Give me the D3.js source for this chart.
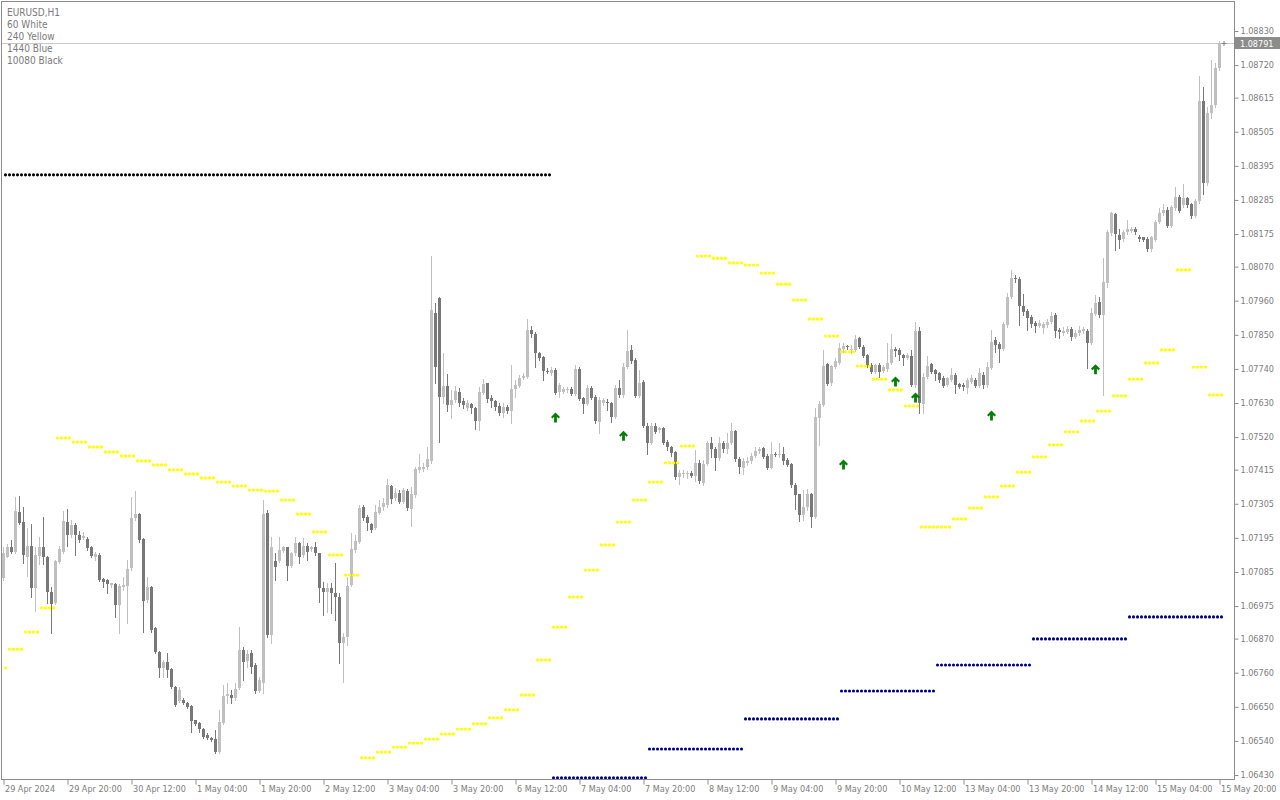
<!DOCTYPE html>
<html lang="en">
<head>
<meta charset="utf-8">
<style>
  html, body { margin: 0; padding: 0; background: #fff; }
  svg { display: block; }
  text { font-family: "DejaVu Sans Condensed", "DejaVu Sans", sans-serif; font-stretch: condensed; }
  .axis text { font-size: 9px; fill: #7c7c7c; }
  .axis line { stroke: #8c8c8c; }
  .legend { font-size: 10px; fill: #7a7a7a; }
</style>
</head>
<body>
<svg width="1280" height="800"></svg>
<script src="https://cdn.jsdelivr.net/npm/d3@7"></script>
<script>
const symbol = "EURUSD,H1"
const legendLines = ["60 White", "240 Yellow", "1440 Blue", "10080 Black"]

// first visible H1 bar (broker time), weekends skipped
const firstBar = Date.UTC(2024, 3, 29, 4)

// [open, high, low, close] per H1 bar
const candles = [
  [1.07064,1.07167,1.07059,1.07145],[1.07134,1.07175,1.07132,1.07167],[1.07167,1.07188,1.07147,1.07150],[1.07150,1.07328,1.07147,1.07283],
  [1.07280,1.07330,1.07240,1.07244],[1.07247,1.07293,1.07113,1.07140],[1.07134,1.07226,1.07072,1.07169],[1.07169,1.07240,1.07005,1.07034],
  [1.07034,1.07167,1.06960,1.07140],[1.07136,1.07199,1.07111,1.07167],[1.07166,1.07261,1.07111,1.07132],[1.07134,1.07136,1.06984,1.07021],
  [1.07021,1.07038,1.06889,1.06981],[1.06984,1.07124,1.06981,1.07120],[1.07118,1.07169,1.07113,1.07159],[1.07150,1.07283,1.07147,1.07249],
  [1.07246,1.07287,1.07169,1.07204],[1.07204,1.07253,1.07199,1.07236],[1.07236,1.07242,1.07140,1.07204],[1.07204,1.07218,1.07183,1.07188],
  [1.07193,1.07215,1.07190,1.07201],[1.07191,1.07199,1.07156,1.07161],[1.07167,1.07169,1.07132,1.07136],[1.07134,1.07150,1.07124,1.07142],
  [1.07140,1.07145,1.07057,1.07059],[1.07062,1.07065,1.07038,1.07054],[1.07059,1.07061,1.07016,1.07045],[1.07043,1.07050,1.07038,1.07048],
  [1.07046,1.07048,1.06941,1.06978],[1.06978,1.07046,1.06889,1.07041],[1.07038,1.07070,1.07027,1.07043],[1.07041,1.07124,1.06921,1.07094],
  [1.07097,1.07328,1.07091,1.07260],[1.07258,1.07346,1.07253,1.07271],[1.07271,1.07274,1.07183,1.07188],[1.07191,1.07193,1.06890,1.06991],
  [1.06995,1.07070,1.06989,1.07038],[1.07038,1.07040,1.06892,1.06898],[1.06903,1.06906,1.06822,1.06828],[1.06828,1.06831,1.06747,1.06776],
  [1.06776,1.06801,1.06747,1.06793],[1.06793,1.06822,1.06745,1.06769],[1.06772,1.06775,1.06712,1.06715],[1.06715,1.06717,1.06653,1.06656],
  [1.06670,1.06715,1.06667,1.06704],[1.06672,1.06677,1.06659,1.06661],[1.06663,1.06667,1.06645,1.06648],[1.06653,1.06656,1.06570,1.06604],
  [1.06607,1.06609,1.06591,1.06595],[1.06599,1.06602,1.06570,1.06577],[1.06578,1.06582,1.06548,1.06554],[1.06559,1.06564,1.06545,1.06548],
  [1.06548,1.06554,1.06540,1.06543],[1.06545,1.06575,1.06502,1.06505],[1.06505,1.06640,1.06502,1.06602],[1.06599,1.06721,1.06595,1.06685],
  [1.06685,1.06726,1.06661,1.06691],[1.06688,1.06704,1.06661,1.06677],[1.06677,1.06726,1.06672,1.06706],[1.06710,1.06909,1.06706,1.06833],
  [1.06833,1.06844,1.06736,1.06796],[1.06799,1.06833,1.06779,1.06820],[1.06822,1.06833,1.06758,1.06779],[1.06785,1.06790,1.06696,1.06702],
  [1.06702,1.06747,1.06699,1.06736],[1.06726,1.07317,1.06693,1.07272],[1.07274,1.07285,1.06876,1.06882],[1.06882,1.07199,1.06855,1.07167],
  [1.07121,1.07145,1.07059,1.07102],[1.07121,1.07197,1.07118,1.07156],[1.07154,1.07169,1.07150,1.07164],[1.07164,1.07167,1.07059,1.07105],
  [1.07105,1.07150,1.07102,1.07147],[1.07145,1.07199,1.07140,1.07177],[1.07177,1.07183,1.07115,1.07134],[1.07140,1.07193,1.07134,1.07169],
  [1.07169,1.07177,1.07124,1.07150],[1.07158,1.07169,1.07154,1.07167],[1.07164,1.07183,1.07140,1.07145],[1.07145,1.07147,1.06989,1.07032],
  [1.07032,1.07054,1.06946,1.07021],[1.07021,1.07048,1.06957,1.07032],[1.07032,1.07048,1.06954,1.07016],[1.07018,1.07113,1.06930,1.07005],
  [1.07005,1.07016,1.06790,1.06857],[1.06855,1.06887,1.06731,1.06876],[1.06874,1.07070,1.06849,1.07040],[1.07043,1.07210,1.07040,1.07159],
  [1.07156,1.07204,1.07150,1.07185],[1.07183,1.07301,1.07177,1.07290],[1.07296,1.07301,1.07253,1.07258],[1.07263,1.07269,1.07220,1.07244],
  [1.07240,1.07244,1.07215,1.07220],[1.07226,1.07301,1.07222,1.07280],[1.07276,1.07317,1.07272,1.07293],[1.07293,1.07322,1.07285,1.07306],
  [1.07301,1.07384,1.07296,1.07366],[1.07362,1.07366,1.07306,1.07320],[1.07322,1.07355,1.07317,1.07341],[1.07341,1.07349,1.07306,1.07312],
  [1.07312,1.07355,1.07306,1.07349],[1.07347,1.07351,1.07285,1.07290],[1.07287,1.07360,1.07233,1.07337],[1.07333,1.07425,1.07328,1.07416],
  [1.07414,1.07467,1.07409,1.07422],[1.07416,1.07435,1.07412,1.07425],[1.07422,1.07489,1.07416,1.07450],[1.07443,1.08105,1.07436,1.07930],
  [1.07920,1.07953,1.07694,1.07746],[1.07969,1.07973,1.07504,1.07649],[1.07649,1.07791,1.07630,1.07685],[1.07685,1.07724,1.07604,1.07624],
  [1.07624,1.07672,1.07582,1.07640],[1.07640,1.07685,1.07633,1.07669],[1.07666,1.07678,1.07620,1.07630],[1.07636,1.07646,1.07614,1.07624],
  [1.07613,1.07640,1.07607,1.07631],[1.07627,1.07631,1.07597,1.07613],[1.07613,1.07618,1.07545,1.07572],[1.07572,1.07683,1.07543,1.07665],
  [1.07663,1.07709,1.07659,1.07691],[1.07693,1.07695,1.07634,1.07643],[1.07645,1.07656,1.07618,1.07637],[1.07637,1.07640,1.07607,1.07618],
  [1.07620,1.07629,1.07591,1.07599],[1.07599,1.07629,1.07586,1.07616],[1.07618,1.07624,1.07597,1.07605],[1.07605,1.07752,1.07566,1.07675],
  [1.07674,1.07704,1.07650,1.07688],[1.07686,1.07720,1.07683,1.07712],[1.07710,1.07727,1.07706,1.07718],[1.07715,1.07900,1.07710,1.07865],
  [1.07865,1.07878,1.07844,1.07852],[1.07854,1.07860,1.07747,1.07792],[1.07790,1.07795,1.07769,1.07776],[1.07777,1.07781,1.07704,1.07733],
  [1.07733,1.07742,1.07727,1.07731],[1.07728,1.07747,1.07720,1.07736],[1.07736,1.07742,1.07659,1.07663],[1.07665,1.07693,1.07650,1.07687],
  [1.07665,1.07683,1.07661,1.07675],[1.07672,1.07683,1.07667,1.07675],[1.07675,1.07683,1.07656,1.07660],[1.07660,1.07752,1.07656,1.07740],
  [1.07740,1.07747,1.07640,1.07644],[1.07645,1.07650,1.07597,1.07627],[1.07627,1.07688,1.07624,1.07680],[1.07680,1.07686,1.07642,1.07647],
  [1.07650,1.07656,1.07566,1.07572],[1.07570,1.07650,1.07532,1.07640],[1.07629,1.07645,1.07624,1.07640],[1.07634,1.07642,1.07607,1.07629],
  [1.07629,1.07634,1.07570,1.07586],[1.07586,1.07688,1.07581,1.07680],[1.07680,1.07704,1.07650,1.07656],[1.07656,1.07758,1.07650,1.07747],
  [1.07745,1.07865,1.07742,1.07797],[1.07801,1.07817,1.07760,1.07767],[1.07769,1.07774,1.07650,1.07654],[1.07654,1.07736,1.07650,1.07693],
  [1.07697,1.07704,1.07554,1.07557],[1.07557,1.07564,1.07467,1.07502],[1.07502,1.07564,1.07498,1.07556],[1.07556,1.07566,1.07532,1.07538],
  [1.07543,1.07554,1.07535,1.07548],[1.07548,1.07552,1.07498,1.07502],[1.07504,1.07511,1.07478,1.07487],[1.07487,1.07491,1.07459,1.07470],
  [1.07472,1.07476,1.07384,1.07392],[1.07392,1.07414,1.07369,1.07405],[1.07401,1.07414,1.07390,1.07405],[1.07400,1.07412,1.07387,1.07405],
  [1.07405,1.07412,1.07390,1.07396],[1.07396,1.07478,1.07377,1.07438],[1.07438,1.07446,1.07371,1.07377],[1.07371,1.07446,1.07366,1.07434],
  [1.07434,1.07509,1.07430,1.07502],[1.07502,1.07521,1.07457,1.07481],[1.07482,1.07489,1.07414,1.07452],[1.07452,1.07521,1.07446,1.07500],
  [1.07500,1.07509,1.07473,1.07481],[1.07481,1.07532,1.07468,1.07502],[1.07501,1.07564,1.07497,1.07539],[1.07539,1.07542,1.07444,1.07448],
  [1.07449,1.07455,1.07403,1.07422],[1.07419,1.07452,1.07401,1.07444],[1.07438,1.07457,1.07430,1.07444],[1.07444,1.07470,1.07437,1.07459],
  [1.07459,1.07489,1.07455,1.07476],[1.07476,1.07489,1.07470,1.07481],[1.07484,1.07489,1.07452,1.07457],[1.07460,1.07465,1.07416,1.07421],
  [1.07421,1.07505,1.07419,1.07465],[1.07467,1.07473,1.07459,1.07464],[1.07465,1.07501,1.07457,1.07467],[1.07467,1.07489,1.07434,1.07443],
  [1.07446,1.07452,1.07427,1.07430],[1.07433,1.07436,1.07360,1.07366],[1.07366,1.07371,1.07287,1.07333],[1.07335,1.07338,1.07250,1.07269],
  [1.07269,1.07349,1.07253,1.07294],[1.07294,1.07351,1.07285,1.07338],[1.07336,1.07340,1.07229,1.07261],[1.07261,1.07613,1.07258,1.07586],
  [1.07583,1.07635,1.07495,1.07626],[1.07624,1.07801,1.07621,1.07749],[1.07755,1.07758,1.07688,1.07691],[1.07693,1.07753,1.07688,1.07749],
  [1.07747,1.07774,1.07742,1.07765],[1.07760,1.07823,1.07756,1.07806],[1.07804,1.07823,1.07796,1.07814],[1.07814,1.07817,1.07803,1.07810],
  [1.07801,1.07817,1.07790,1.07805],[1.07801,1.07849,1.07798,1.07835],[1.07840,1.07844,1.07806,1.07810],[1.07812,1.07816,1.07778,1.07782],
  [1.07785,1.07788,1.07747,1.07753],[1.07753,1.07758,1.07726,1.07729],[1.07729,1.07755,1.07726,1.07751],[1.07753,1.07758,1.07713,1.07731],
  [1.07733,1.07753,1.07729,1.07747],[1.07739,1.07823,1.07734,1.07758],[1.07758,1.07854,1.07755,1.07804],[1.07804,1.07812,1.07780,1.07798],
  [1.07801,1.07806,1.07769,1.07785],[1.07785,1.07788,1.07753,1.07774],[1.07774,1.07790,1.07771,1.07785],[1.07782,1.07801,1.07685,1.07688],
  [1.07688,1.07892,1.07683,1.07862],[1.07862,1.07874,1.07597,1.07629],[1.07627,1.07726,1.07597,1.07714],[1.07715,1.07780,1.07712,1.07749],
  [1.07755,1.07760,1.07726,1.07730],[1.07735,1.07739,1.07704,1.07724],[1.07726,1.07731,1.07699,1.07705],[1.07712,1.07717,1.07681,1.07685],
  [1.07688,1.07715,1.07685,1.07710],[1.07704,1.07742,1.07700,1.07720],[1.07720,1.07726,1.07661,1.07688],[1.07691,1.07695,1.07677,1.07683],
  [1.07687,1.07693,1.07672,1.07681],[1.07677,1.07710,1.07661,1.07704],[1.07699,1.07720,1.07693,1.07710],[1.07704,1.07710,1.07681,1.07685],
  [1.07685,1.07742,1.07681,1.07726],[1.07720,1.07731,1.07677,1.07687],[1.07687,1.07763,1.07682,1.07747],[1.07744,1.07865,1.07739,1.07828],
  [1.07833,1.07844,1.07796,1.07817],[1.07820,1.07828,1.07763,1.07804],[1.07804,1.07892,1.07801,1.07885],[1.07882,1.07984,1.07876,1.07973],
  [1.07973,1.08059,1.07968,1.08032],[1.08034,1.08043,1.08021,1.08029],[1.08030,1.08036,1.07882,1.07944],[1.07944,1.07982,1.07914,1.07923],
  [1.07927,1.07932,1.07865,1.07905],[1.07909,1.07914,1.07876,1.07885],[1.07889,1.07895,1.07860,1.07878],[1.07878,1.07898,1.07874,1.07889],
  [1.07871,1.07892,1.07855,1.07885],[1.07882,1.07900,1.07876,1.07892],[1.07890,1.07925,1.07887,1.07912],[1.07914,1.07919,1.07844,1.07863],
  [1.07865,1.07871,1.07839,1.07860],[1.07857,1.07876,1.07849,1.07863],[1.07860,1.07878,1.07855,1.07868],[1.07868,1.07874,1.07833,1.07844],
  [1.07844,1.07865,1.07839,1.07857],[1.07855,1.07878,1.07849,1.07865],[1.07863,1.07876,1.07857,1.07868],[1.07863,1.07870,1.07742,1.07825],
  [1.07825,1.07935,1.07820,1.07921],[1.07917,1.07978,1.07914,1.07954],[1.07956,1.07973,1.07909,1.07914],[1.07914,1.08097,1.07656,1.08021],
  [1.08018,1.08188,1.08005,1.08180],[1.08177,1.08247,1.08172,1.08242],[1.08240,1.08244,1.08124,1.08176],[1.08172,1.08190,1.08129,1.08156],
  [1.08158,1.08188,1.08151,1.08183],[1.08180,1.08220,1.08176,1.08190],[1.08186,1.08199,1.08180,1.08190],[1.08190,1.08197,1.08176,1.08180],
  [1.08166,1.08172,1.08154,1.08158],[1.08164,1.08166,1.08151,1.08156],[1.08159,1.08164,1.08121,1.08128],[1.08128,1.08168,1.08121,1.08164],
  [1.08156,1.08220,1.08151,1.08215],[1.08215,1.08258,1.08212,1.08244],[1.08242,1.08272,1.08237,1.08252],[1.08252,1.08263,1.08197,1.08201],
  [1.08201,1.08268,1.08199,1.08263],[1.08258,1.08327,1.08252,1.08294],[1.08296,1.08301,1.08247,1.08250],[1.08268,1.08336,1.08263,1.08290],
  [1.08290,1.08296,1.08263,1.08268],[1.08272,1.08276,1.08226,1.08234],[1.08234,1.08287,1.08231,1.08282],[1.08282,1.08685,1.08276,1.08604],
  [1.08604,1.08650,1.08304,1.08341],[1.08341,1.08586,1.08333,1.08565],[1.08565,1.08737,1.08548,1.08591],[1.08591,1.08726,1.08586,1.08710],
  [1.08710,1.08797,1.08703,1.08791]
]

// 240 (yellow): one level per H4 period; the first period ends on bar 0
const h4FirstBar = -3
const h4Levels = [
  1.06775, 1.06836, 1.06891, 1.06969, 1.07517, 1.07504, 1.07488, 1.07472, 1.07459, 1.07443,
  1.07430, 1.07414, 1.07401, 1.07388, 1.07375, 1.07362, 1.07349, 1.07346, 1.07317, 1.07272,
  1.07214, 1.07140, 1.07075, 1.06485, 1.06504, 1.06520, 1.06533, 1.06546, 1.06562, 1.06578,
  1.06595, 1.06614, 1.06640, 1.06688, 1.06801, 1.06907, 1.07004, 1.07091, 1.07172, 1.07246,
  1.07317, 1.07375, 1.07437, 1.07491, 1.08104, 1.08097, 1.08082, 1.08075, 1.08049, 1.08013,
  1.07962, 1.07901, 1.07846, 1.07795, 1.07749, 1.07707, 1.07672, 1.07620, 1.07230, 1.07230,
  1.07256, 1.07291, 1.07327, 1.07362, 1.07407, 1.07456, 1.07495, 1.07537, 1.07572, 1.07604,
  1.07653, 1.07707, 1.07759, 1.07801, 1.08059, 1.07746, 1.07656
]

// 1440 (blue): one level per day, 24 bars each
const dailyFirstBar = 137
const dailyLevels = [1.06421, 1.06514, 1.06611, 1.06701, 1.06785, 1.06869, 1.06940]

// 10080 (black)
const weeklyLevel = 1.08366
const weeklyLastBar = 136

// green up arrows: [bar, price]
const signals = [[138, 1.07582], [155, 1.07523], [210, 1.07430], [223, 1.07698], [228, 1.07646], [247, 1.07588], [273, 1.07737]]

const priceTicks = [1.08830, 1.08720, 1.08615, 1.08505, 1.08395, 1.08285, 1.08175, 1.08070, 1.07960, 1.07850, 1.07740, 1.07630,
  1.07520, 1.07415, 1.07305, 1.07195, 1.07085, 1.06975, 1.06870, 1.06760, 1.06650, 1.06540, 1.06430]
const lastPrice = 1.08791

// --- bar times (H1, weekends skipped)
const barTimes = []
for (let t = firstBar; barTimes.length < candles.length; t += 3600e3) {
  const wd = new Date(t).getUTCDay()
  if (wd !== 0 && wd !== 6) barTimes.push(new Date(t))
}
const timeTicks = d3.range(0, candles.length, 16)
const fmtFirst = d3.utcFormat("%-d %b %Y")
const fmtTick = d3.utcFormat("%-d %b %H:%M")

const plotL = 2, plotR = 1234, plotT = 2, plotB = 779

const x = d3.scaleLinear().domain([0, candles.length - 1]).range([3.5, 3.5 + 4 * (candles.length - 1)])
const y = d3.scaleLinear().domain([1.0643, 1.0883]).range([775, 31])

const svg = d3.select("svg")

svg.append("clipPath").attr("id", "plot")
  .append("rect").attr("x", plotL).attr("y", plotT).attr("width", plotR - plotL).attr("height", plotB - plotT)

// current price line
svg.append("line")
  .attr("x1", plotL).attr("x2", plotR)
  .attr("y1", Math.round(y(lastPrice)) + 0.5).attr("y2", Math.round(y(lastPrice)) + 0.5)
  .attr("stroke", "#c8c8c8")

const plot = svg.append("g").attr("clip-path", "url(#plot)")

// candles
const bull = "#c0c0c0", bear = "#787878"
const bars = plot.append("g").attr("shape-rendering", "crispEdges")
  .selectAll("g").data(candles).join("g")
  .attr("fill", d => d[3] >= d[0] ? bull : bear)
  .attr("stroke", d => d[3] >= d[0] ? bull : bear)

bars.append("line")
  .attr("x1", (d, i) => x(i)).attr("x2", (d, i) => x(i))
  .attr("y1", d => Math.round(y(d[1]))).attr("y2", d => Math.round(y(d[2])) + 1)

bars.append("rect")
  .attr("stroke", "none")
  .attr("x", (d, i) => x(i) - 1.5)
  .attr("width", 3)
  .attr("y", d => Math.round(y(Math.max(d[0], d[3]))))
  .attr("height", d => Math.max(1, Math.round(y(Math.min(d[0], d[3]))) - Math.round(y(Math.max(d[0], d[3])))))

// dotted levels (drawn a little right of the bar centre, as in the terminal)
function dots (cls, points, color, r) {
  plot.append("g").attr("class", cls).selectAll("circle").data(points).join("circle")
    .attr("cx", d => x(d[0]) + 2)
    .attr("cy", d => y(d[1]))
    .attr("r", r)
    .attr("fill", color)
}

const lastIndex = candles.length - 1
const inRange = i => i >= 0 && i <= lastIndex

const weeklyPts = d3.range(0, weeklyLastBar + 1).map(i => [i, weeklyLevel])
const dailyPts = dailyLevels.flatMap((v, k) =>
  d3.range(dailyFirstBar + 24 * k, dailyFirstBar + 24 * (k + 1)).filter(inRange).map(i => [i, v]))
const h4Pts = h4Levels.flatMap((v, k) =>
  d3.range(h4FirstBar + 4 * k, h4FirstBar + 4 * (k + 1)).filter(inRange).map(i => [i, v]))

dots("weekly", weeklyPts, "#000000", 1.55)
dots("daily", dailyPts, "#00008b", 1.55)
dots("h4", h4Pts, "#ffff00", 1.65)

// arrows
const arrow = "M0,-5.5L4.5,-1L3,0.5L1.4,-1.1L1.4,4.5L-1.4,4.5L-1.4,-1.1L-3,0.5L-4.5,-1Z"
plot.append("g").selectAll("path").data(signals).join("path")
  .attr("d", arrow)
  .attr("transform", d => `translate(${x(d[0])},${y(d[1])})`)
  .attr("fill", "#007f00")

// frame
svg.append("rect")
  .attr("x", plotL - 0.5).attr("y", plotT - 0.5)
  .attr("width", plotR - plotL + 1).attr("height", plotB - plotT + 1)
  .attr("fill", "none").attr("stroke", "#8c8c8c")

// price axis
const yAxis = svg.append("g").attr("class", "axis")
  .attr("transform", `translate(${plotR + 0.5},0)`)
  .call(d3.axisRight(y).tickValues(priceTicks).tickFormat(d3.format(".5f")).tickSize(4).tickPadding(2))
yAxis.select(".domain").remove()

// time axis
const xAxis = svg.append("g").attr("class", "axis")
  .attr("transform", `translate(0,${plotB + 0.5})`)
  .call(d3.axisBottom(x).tickValues(timeTicks).tickSize(5)
    .tickFormat(i => i === 0 ? fmtFirst(barTimes[i]) : fmtTick(barTimes[i])))
xAxis.select(".domain").remove()
xAxis.selectAll(".tick text")
  .attr("text-anchor", "start")
  .attr("x", 1)
  .attr("y", 6)

// last price marker
const yp = Math.round(y(lastPrice))
svg.append("rect")
  .attr("x", plotR + 1).attr("y", yp - 6).attr("width", 46).attr("height", 12)
  .attr("fill", "#8c8c8c")
svg.append("text")
  .attr("x", plotR + 6).attr("y", yp + 3.5)
  .attr("font-size", 9).attr("fill", "#fff")
  .text(d3.format(".5f")(lastPrice))
svg.append("path")
  .attr("d", `M${x(lastIndex) + 2},${yp + 0.5}h5M${x(lastIndex) + 4.5},${yp - 2}v5`)
  .attr("stroke", "#808080")

// legend
svg.append("g").selectAll("text").data([symbol, ...legendLines]).join("text")
  .attr("class", "legend")
  .attr("x", 7)
  .attr("y", (d, i) => 15.5 + 12 * i)
  .text(d => d)
</script>
</body>
</html>
